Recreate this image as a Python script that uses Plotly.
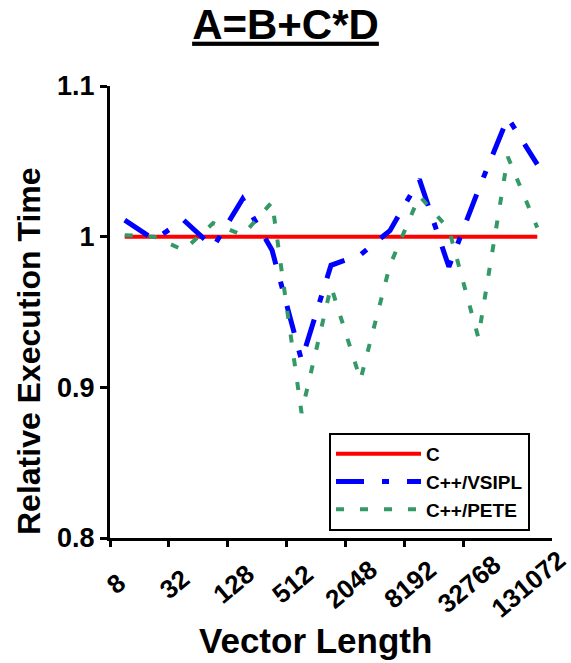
import plotly.graph_objects as go

# ---- data ----
vector_lengths = ["8", "16", "32", "64", "128", "256", "512", "1024", "2048",
                  "4096", "8192", "16384", "32768", "65536", "131072"]
c_vals = [1.0, 1.0, 1.0, 1.0, 1.0, 1.0, 1.0, 1.0, 1.0, 1.0, 1.0, 1.0, 1.0, 1.0, 1.0]
vsipl_vals = [1.011, 0.998, 1.011, 0.993, 1.025, 0.991, 0.918, 0.981, 0.988,
              1.004, 1.038, 0.980, 1.031, 1.079, 1.048]
pete_vals = [1.001, 1.000, 0.991, 1.009, 1.001, 1.023, 0.883, 0.967, 0.905,
             0.981, 1.027, 1.005, 0.933, 1.053, 1.006]
tick_labels = ["8", "32", "128", "512", "2048", "8192", "32768", "131072"]
y_ticks = [0.8, 0.9, 1.0, 1.1]
y_tick_text = ["0.8", "0.9", "1", "1.1"]

FONT = "Liberation Sans"
W, H = 571, 663
L, R, T, B = 110, 19, 86, 125
pw, ph = W - L - R, H - T - B

fig = go.Figure()
fig.add_trace(go.Scatter(x=vector_lengths, y=c_vals, name="C", mode="lines",
                         line=dict(color="#FF0000", width=4)))
fig.add_trace(go.Scatter(x=vector_lengths, y=vsipl_vals, name="C++/VSIPL", mode="lines",
                         line=dict(color="#0000FF", width=5, dash="28px,18px,7px,18px")))
fig.add_trace(go.Scatter(x=vector_lengths, y=pete_vals, name="C++/PETE", mode="lines",
                         line=dict(color="#339966", width=4, dash="8px,16px")))

n = len(vector_lengths)
# tick marks sit on the category boundaries, every second category
boundary_ticks = [i - 0.5 for i in range(0, n - 1, 2)]

annotations = []
for lab in tick_labels:
    annotations.append(dict(x=vector_lengths.index(lab), xref="x", y=0, yref="paper",
                            text=lab, showarrow=False, textangle=-40, xanchor="center",
                            yanchor="middle", xshift=-9, yshift=-46,
                            font=dict(family=FONT, size=26, color="black", weight="bold")))
annotations.append(dict(x=(29 - L) / pw, xref="paper", y=(H - B - 351) / ph, yref="paper",
                        text="Relative Execution Time", textangle=-90, showarrow=False,
                        xanchor="center", yanchor="middle",
                        font=dict(family=FONT, size=32, color="black", weight="bold")))
annotations.append(dict(x=(315 - L) / pw, xref="paper", y=(H - B - 640) / ph, yref="paper",
                        text="Vector Length", showarrow=False,
                        xanchor="center", yanchor="middle",
                        font=dict(family=FONT, size=35, color="black", weight="bold")))

fig.update_layout(
    width=W, height=H,
    margin=dict(l=L, r=R, t=T, b=B),
    paper_bgcolor="white", plot_bgcolor="white",
    title=dict(text="<u>A=B+C*D</u>", x=0.5, xref="container", xanchor="center",
               y=1 - 24 / H, yref="container", yanchor="middle",
               font=dict(family=FONT, size=42, color="black", weight="bold")),
    xaxis=dict(type="category", categoryorder="array", categoryarray=vector_lengths,
               range=[-0.5, n - 0.5], tickmode="array", tickvals=boundary_ticks,
               ticktext=[""] * len(boundary_ticks), showticklabels=False,
               ticks="outside", ticklen=6, tickwidth=3, tickcolor="black",
               showgrid=False, zeroline=False, showline=True, linecolor="black",
               linewidth=3),
    yaxis=dict(range=[0.8, 1.1], tickmode="array", tickvals=y_ticks, ticktext=y_tick_text,
               ticks="outside", ticklen=7, tickwidth=3, tickcolor="black",
               showgrid=False, zeroline=False, showline=True, linecolor="black",
               linewidth=3,
               tickfont=dict(family=FONT, size=27, color="black", weight="bold")),
    legend=dict(x=(329 - L) / pw, y=(H - B - 433) / ph, xanchor="left", yanchor="top",
                bgcolor="white", bordercolor="black", borderwidth=2, itemwidth=85,
                font=dict(family=FONT, size=19, color="black", weight="bold")),
    annotations=annotations,
    showlegend=True,
)

fig.write_html("out.html")
